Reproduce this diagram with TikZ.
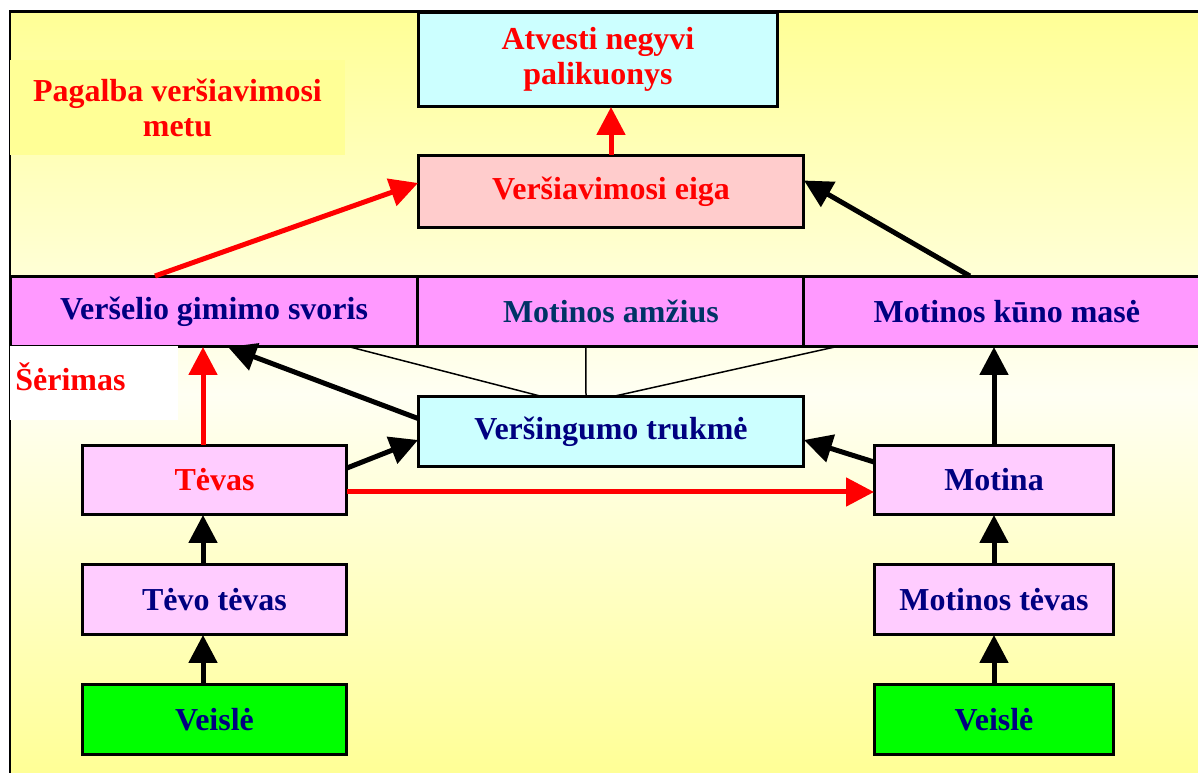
\documentclass[tikz,border=0pt]{standalone}
\usepackage{fontspec}
\setmainfont{Liberation Serif}
\usepackage{tikz}
\usetikzlibrary{arrows.meta,positioning,calc}

\definecolor{bgyellow}{RGB}{255,255,150}
\definecolor{bgpale}{RGB}{255,255,243}
\definecolor{boxcyan}{RGB}{204,255,255}
\definecolor{boxrose}{RGB}{255,204,204}
\definecolor{boxmagenta}{RGB}{255,153,255}
\definecolor{boxpink}{RGB}{255,204,255}
\definecolor{boxgreen}{RGB}{0,255,0}
\definecolor{navytext}{RGB}{0,0,128}
\definecolor{slatetext}{RGB}{0,51,102}

\begin{document}
\begin{tikzpicture}[
  x=0.02cm, y=-0.02cm,
  font=\fontsize{18.2}{20}\selectfont\bfseries,
  node distance=1cm,
  box/.style={rectangle, draw, line width=0.06cm, inner sep=0pt, outer sep=0pt, align=center, minimum width=7.72cm, minimum height=1.42cm},
  smallbox/.style={box, fill=boxpink, text=navytext, minimum width=5.3cm, minimum height=1.4cm},
  arrow/.style={-{Triangle[length=0.56cm,width=0.56cm]}, line width=0.1cm},
  redarrow/.style={arrow, red},
  thinline/.style={line width=0.03cm}
]
\useasboundingbox (0,0) rectangle (1198,773);

% background
\shade[top color=bgyellow, bottom color=bgpale] (10,12) rectangle (1198,395);
\shade[top color=bgpale, bottom color=bgyellow] (10,394) rectangle (1198,773);
\draw[line width=0.06cm] (10,773) -- (10,12) -- (1198,12);

\node[box, fill=boxcyan, text=red, minimum width=7.2cm, minimum height=1.9cm] (atvesti) at (598,59.5) {Atvesti negyvi\\palikuonys};
\node[box, fill=boxrose, text=red, minimum height=1.46cm] (eiga) at (611,191.5) {Veršiavimosi eiga};

\node[box, fill=boxmagenta, text=navytext, minimum width=8.16cm] (svoris) at (214,311.5) {Veršelio gimimo svoris};
\node[box, fill=boxmagenta, text=slatetext, right=0pt of svoris] (amzius) {Motinos amžius};
\node[box, fill=boxmagenta, text=navytext, minimum width=8.12cm, right=0pt of amzius] (mase) {Motinos kūno masė};

\node[box, fill=boxcyan, text=navytext] (trukme) at (611,431.5) {Veršingumo trukmė};

\node[smallbox, text=red] (tevas) at (214.5,480) {Tėvas};
\node[smallbox, below=of tevas] (tevotevas) {Tėvo tėvas};
\node[smallbox, fill=boxgreen, below=of tevotevas] (veisleT) {Veislė};

\node[smallbox, minimum width=4.8cm] (motina) at (994,480) {Motina};
\node[smallbox, minimum width=4.8cm, below=of motina] (motinostevas) {Motinos tėvas};
\node[smallbox, minimum width=4.8cm, fill=boxgreen, below=of motinostevas] (veisleM) {Veislė};

% side labels
\node[fill=bgyellow, text=red, align=center, minimum width=6.7cm, minimum height=1.9cm, inner sep=0pt] (pagalba) at (177.5,107.5) {Pagalba veršiavimosi\\metu};
\node[fill=white, minimum width=3.36cm, minimum height=1.5cm, inner sep=0pt] (serimasbg) at (94,383) {};
\node[text=red, anchor=west, inner sep=0pt] (serimas) at (15,377) {Šėrimas};

% thin links
\draw[thinline] ($(trukme.north)+(-71,0)$) -- ($(svoris.south)+(136,0)$);
\draw[thinline] ($(trukme.north)+(-25,0)$) -- ($(amzius.south)+(-25,0)$);
\draw[thinline] ($(trukme.north)+(4,0)$) -- ($(mase.south)+(-172,0)$);

% arrows
\draw[redarrow] (eiga.north) -- (eiga.north |- atvesti.south);
\draw[redarrow] ($(svoris.north)+(-59,0)$) -- ($(eiga.west)+(0,-8.5)$);
\draw[arrow] ($(mase.north)+(-37,0)$) -- ($(eiga.east)+(0,-11)$);

\draw[redarrow] (tevas.north -| 203,0) -- (svoris.south -| 203,0);
\draw[arrow] ($(trukme.west)+(0,-13)$) -- ($(svoris.south)+(14,0)$);
\draw[arrow] ($(tevas.east)+(0,-12)$) -- ($(trukme.west)+(0,8.5)$);
\draw[arrow] ($(motina.west)+(0,-18)$) -- ($(trukme.east)+(0,8.5)$);
\draw[redarrow] ($(tevas.east)+(0,12)$) -- ($(motina.west)+(0,12)$);
\draw[arrow] (motina.north) -- (motina.north |- mase.south);

\draw[arrow] (tevotevas.north -| 203,0) -- (tevas.south -| 203,0);
\draw[arrow] (veisleT.north -| 203,0) -- (tevotevas.south -| 203,0);
\draw[arrow] (motinostevas) -- (motina);
\draw[arrow] (veisleM) -- (motinostevas);

\end{tikzpicture}
\end{document}
